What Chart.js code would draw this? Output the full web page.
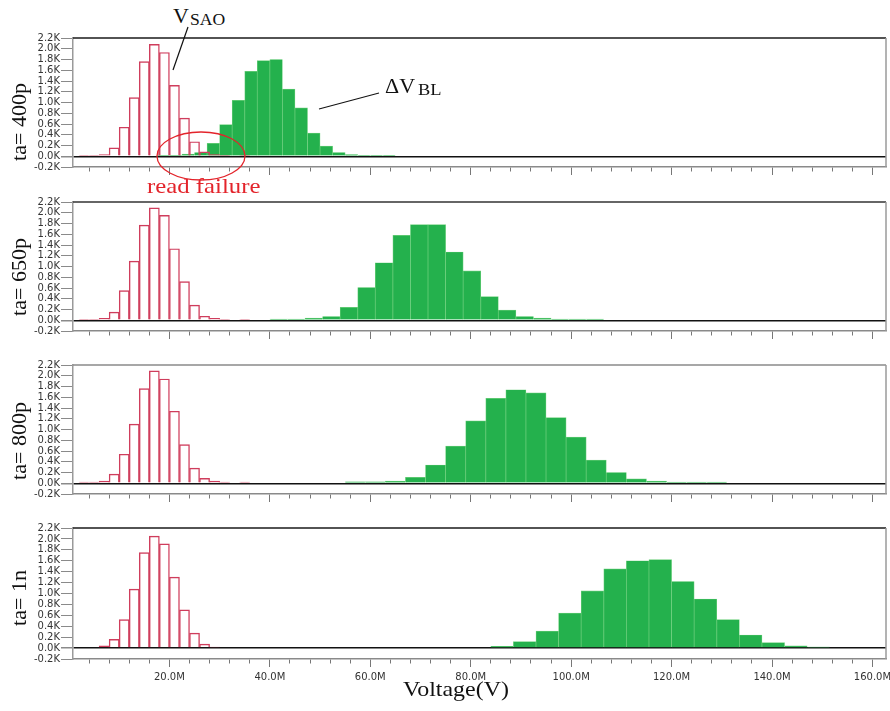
<!DOCTYPE html>
<html>
<head>
<meta charset="utf-8">
<script src="https://cdn.jsdelivr.net/npm/chart.js@4.4.1/dist/chart.umd.min.js"></script>
<style>
  html, body { margin: 0; padding: 0; background: #fff; }
  #page { position: relative; width: 890px; height: 711px; overflow: hidden; background: #fff; }
  canvas { position: absolute; left: 0; }
  .serif { position: absolute; font-family: "Liberation Serif", "Times New Roman", serif; color: #111; white-space: nowrap; line-height: 1; }
  .ylab { font-size: 22px; transform: translate(-50%, -50%) rotate(-90deg); }
</style>
</head>
<body>
<div id="page">
  <canvas id="c400" width="890" height="147" style="top:30px"></canvas>
  <canvas id="c650" width="890" height="147" style="top:194px"></canvas>
  <canvas id="c800" width="890" height="147" style="top:357px"></canvas>
  <canvas id="c1n" width="890" height="167" style="top:520px"></canvas>

  <div class="serif ylab" style="left:19px;top:122px">ta= 400p</div>
  <div class="serif ylab" style="left:19px;top:277px">ta= 650p</div>
  <div class="serif ylab" style="left:19px;top:441px">ta= 800p</div>
  <div class="serif ylab" style="left:19px;top:598px">ta= 1n</div>

  <div class="serif" style="left:173px;top:5px;font-size:22px">V</div>
  <div class="serif" style="left:190px;top:12px;font-size:16px;transform:scaleX(1.1);transform-origin:left">SAO</div>
  <div class="serif" style="left:385px;top:75px;font-size:22px">ΔV</div>
  <div class="serif" style="left:418px;top:82px;font-size:16px;transform:scaleX(1.15);transform-origin:left">BL</div>
  <div class="serif" style="left:147px;top:176px;font-size:21px;color:#e3242b;transform:scaleX(1.18);transform-origin:left">read failure</div>
  <div class="serif" style="left:403px;top:679px;font-size:21px;transform:scaleX(1.14);transform-origin:left">Voltage(V)</div>

  <svg width="890" height="711" style="position:absolute;left:0;top:0;pointer-events:none">
    <line x1="188" y1="27" x2="173" y2="70" stroke="#111" stroke-width="1.2"/>
    <line x1="319" y1="109" x2="379" y2="93" stroke="#111" stroke-width="1.2"/>
    <ellipse cx="201" cy="156" rx="44" ry="24" fill="none" stroke="#e3242b" stroke-width="1.3"/>
  </svg>
</div>

<script>
// V_SAO histogram, 2M bins (bin centres, in M)
const saoCentres = [3, 5, 7, 9, 11, 13, 15, 17, 19, 21, 23, 25, 27, 29, 31, 33, 35];
const sao400 = [10, 10, 30, 155, 540, 1090, 1760, 2080, 1930, 1320, 710, 270, 80, 30, 10, null, 10];
const sao650 = [15, 15, 35, 150, 550, 1100, 1770, 2090, 1950, 1330, 720, 280, 75, 35, 15, null, 15];
const sao800 = [20, 20, 40, 170, 540, 1100, 1760, 2090, 1940, 1340, 720, 280, 90, 40, 20, null, 20];
const sao1n = [null, null, 40, 160, 520, 1080, 1750, 2050, 1910, 1300, 700, 275, 73, 20, null, null, null];

// delta V_BL histograms (bin centres, in M)
const bl400Centres = [18.75, 21.25, 23.75, 26.25, 28.75, 31.25, 33.75, 36.25, 38.75, 41.25, 43.75, 46.25, 48.75, 51.25, 53.75, 56.25, 58.75, 61.25, 63.75];
const bl400 = [10, 10, 40, 70, 240, 590, 1040, 1580, 1780, 1800, 1250, 900, 430, 190, 70, 30, 10, 10, 10];
const bl650Centres = [41.75, 45.25, 48.75, 52.25, 55.75, 59.25, 62.75, 66.25, 69.75, 73.25, 76.75, 80.25, 83.75, 87.25, 90.75, 94.25, 97.75, 101.25, 104.75];
const bl650 = [20, 20, 40, 70, 240, 610, 1070, 1580, 1780, 1780, 1270, 920, 440, 190, 70, 40, 20, 20, 20];
const bl800Centres = [57, 61, 65, 69, 73, 77, 81, 85, 89, 93, 97, 101, 105, 109, 113, 117, 121, 125, 129];
const bl800 = [25, 25, 40, 110, 340, 690, 1160, 1580, 1740, 1680, 1220, 860, 430, 200, 80, 40, 20, 20, 20];
const bl1nCentres = [86.25, 90.75, 95.25, 99.75, 104.25, 108.75, 113.25, 117.75, 122.25, 126.75, 131.25, 135.75, 140.25, 144.75, 149.25];
const bl1n = [30, 120, 310, 640, 1050, 1450, 1600, 1620, 1220, 900, 520, 240, 100, 40, 20];

// axes
const xMin = 0.8;
const xMax = 162.7;
const xTicks = [4, 8, 12, 16, 20, 24, 28, 32, 36, 40, 44, 48, 52, 56, 60, 64, 68, 72, 76, 80,
  84, 88, 92, 96, 100, 104, 108, 112, 116, 120, 124, 128, 132, 136, 140, 144, 148, 152, 156, 160];
const yTicks = [-200, 0, 200, 400, 600, 800, 1000, 1200, 1400, 1600, 1800, 2000, 2200];

Chart.defaults.font.family = '"DejaVu Sans", sans-serif';
Chart.defaults.font.size = 10;
Chart.defaults.color = "#333";

const frameLines = {
  id: "frameLines",
  afterDraw(chart, args, opts) {
    const { ctx, chartArea: a } = chart;
    ctx.save();
    ctx.lineWidth = 1.5;
    ctx.strokeStyle = opts.top;
    ctx.beginPath();
    ctx.moveTo(a.left, a.top);
    ctx.lineTo(a.right, a.top);
    ctx.stroke();
    ctx.strokeStyle = "#9a9a9a";
    ctx.beginPath();
    ctx.moveTo(a.right, a.top);
    ctx.lineTo(a.right, a.bottom);
    ctx.stroke();
    ctx.restore();
  },
};

function histPoints(centres, counts) {
  return centres.map((x, i) => ({ x: x, y: counts[i] }));
}

function hiddenX() {
  return {
    type: "linear",
    display: false,
    min: xMin,
    max: xMax,
    offset: false,
    afterBuildTicks: (axis) => {
      axis.ticks = [{ value: xMin }];
    },
  };
}

function makePanel(canvasId, sao, blCentres, bl, topColor, showLabels) {
  const xh = showLabels ? 28 : 10;
  new Chart(document.getElementById(canvasId), {
    type: "bar",
    data: {
      datasets: [
        {
          label: "VSAO",
          data: histPoints(saoCentres, sao),
          xAxisID: "xr",
          backgroundColor: "rgba(255,255,255,0)",
          borderColor: "#cf3d5c",
          borderWidth: 0.75,
          barPercentage: 1,
          categoryPercentage: 1,
          grouped: false,
        },
        {
          label: "dVBL",
          data: histPoints(blCentres, bl),
          xAxisID: "xg",
          backgroundColor: "#24b14d",
          borderColor: "#6ccf7b",
          borderWidth: 0.7,
          barPercentage: 1,
          categoryPercentage: 1,
          grouped: false,
        },
      ],
    },
    options: {
      responsive: false,
      animation: false,
      devicePixelRatio: 1,
      layout: { padding: { left: 0, right: 4, top: 8, bottom: 0 } },
      plugins: {
        legend: { display: false },
        tooltip: { enabled: false },
        frameLines: { top: topColor },
      },
      scales: {
        x: {
          type: "linear",
          position: "bottom",
          min: xMin,
          max: xMax,
          offset: false,
          afterBuildTicks: (axis) => {
            axis.ticks = xTicks.map((v) => ({ value: v }));
          },
          afterFit: (axis) => {
            axis.height = xh;
            axis.paddingLeft = 0;
            axis.paddingRight = 0;
          },
          border: { display: true, color: "#8a8a8a", width: 1.5 },
          grid: {
            offset: false,
            drawOnChartArea: false,
            tickLength: 8,
            tickColor: "#777",
            tickWidth: 1,
            tickBorderDash: (ctx) => (ctx.tick && ctx.tick.value % 20 === 0 ? [] : [4, 40]),
          },
          ticks: {
            display: showLabels,
            autoSkip: false,
            maxRotation: 0,
            padding: 4,
            color: "#333",
            callback: (v) => (v % 20 === 0 ? v.toFixed(1) + "M" : ""),
          },
        },
        xr: hiddenX(),
        xg: hiddenX(),
        y: {
          type: "linear",
          position: "left",
          min: -200,
          max: 2200,
          afterBuildTicks: (axis) => {
            axis.ticks = yTicks.map((v) => ({ value: v }));
          },
          afterFit: (axis) => {
            axis.width = 73;
            axis.paddingTop = 0;
            axis.paddingBottom = 0;
          },
          border: { display: true, color: "#9a9a9a", width: 1.5 },
          grid: {
            drawOnChartArea: true,
            color: (ctx) => (ctx.tick && ctx.tick.value === 0 ? "#111" : "rgba(0,0,0,0)"),
            lineWidth: (ctx) => (ctx.tick && ctx.tick.value === 0 ? 1.5 : 1),
            tickLength: 12,
            tickColor: "#8a8a8a",
          },
          ticks: {
            autoSkip: false,
            padding: 1,
            color: "#333",
            callback: (v) => (v / 1000).toFixed(1) + "K",
          },
        },
      },
    },
    plugins: [frameLines],
  });
}

makePanel("c400", sao400, bl400Centres, bl400, "#1a1a1a", false);
makePanel("c650", sao650, bl650Centres, bl650, "#333", false);
makePanel("c800", sao800, bl800Centres, bl800, "#8a8a8a", false);
makePanel("c1n", sao1n, bl1nCentres, bl1n, "#1a1a1a", true);
</script>
</body>
</html>
